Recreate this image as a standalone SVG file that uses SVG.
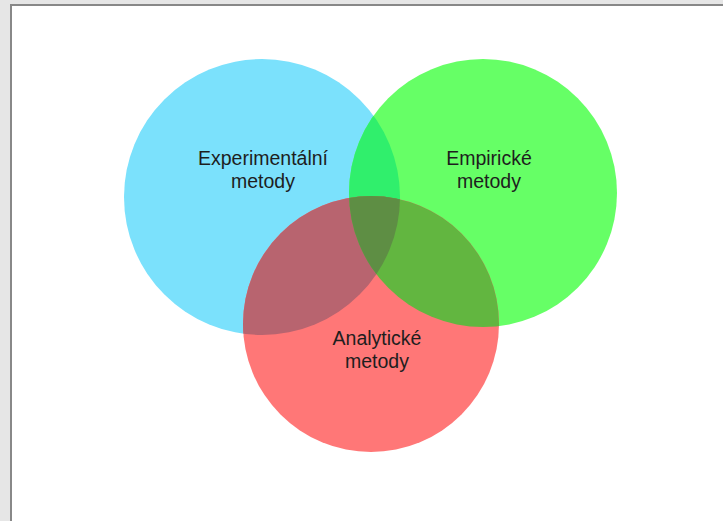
<svg xmlns="http://www.w3.org/2000/svg" width="723" height="521" viewBox="0 0 723 521">
<style>
.lbl{font-family:"Liberation Sans",Arial,sans-serif;font-size:19.5px;fill:#1e1e1e;text-anchor:middle}
</style>
<defs>
<clipPath id="cb"><circle cx="262" cy="197" r="138"/></clipPath>
<clipPath id="cg"><circle cx="483" cy="193" r="134"/></clipPath>
<clipPath id="cr"><circle cx="371" cy="324" r="128"/></clipPath>
</defs>
<rect x="0" y="0" width="723" height="521" fill="#e6e6e6"/>
<rect x="11" y="5" width="730" height="530" fill="#ffffff" stroke="#888888" stroke-width="2"/>
<g id="experimentalni">
<circle cx="262" cy="197" r="138" fill="#7be1fc"/>
</g>
<g id="empiricke">
<circle cx="483" cy="193" r="134" fill="#66ff66"/>
</g>
<g id="analyticke">
<circle cx="371" cy="324" r="128" fill="#ff7777"/>
</g>
<g id="overlaps">
<circle cx="483" cy="193" r="134" fill="#30ef6c" clip-path="url(#cb)"/>
<circle cx="371" cy="324" r="128" fill="#b8646f" clip-path="url(#cb)"/>
<circle cx="371" cy="324" r="128" fill="#62b640" clip-path="url(#cg)"/>
<g clip-path="url(#cb)"><circle cx="371" cy="324" r="128" fill="#5e8e44" clip-path="url(#cg)"/></g>
</g>
<g id="labels">
<text class="lbl" x="263" y="165">Experimentální</text>
<text class="lbl" x="263" y="188">metody</text>
<text class="lbl" x="489" y="165">Empirické</text>
<text class="lbl" x="489" y="188">metody</text>
<text class="lbl" x="377" y="345">Analytické</text>
<text class="lbl" x="377" y="368">metody</text>
</g>
<g id="connectors"/>
</svg>
